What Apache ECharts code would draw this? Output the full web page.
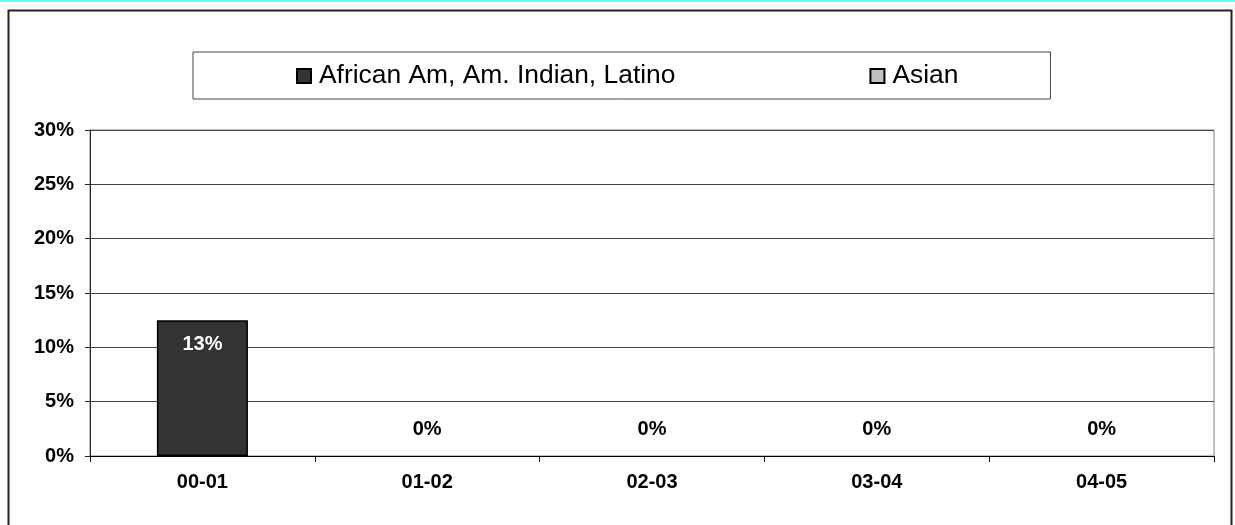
<!DOCTYPE html>
<html>
<head>
<meta charset="utf-8">
<script src="https://cdn.jsdelivr.net/npm/echarts@6/dist/echarts.min.js"></script>
<style>
html,body{margin:0;padding:0;background:#fff;}
#c{width:1235px;height:525px;}
</style>
</head>
<body>
<div id="c"></div>
<script>
const categories = ['00-01', '01-02', '02-03', '03-04', '04-05'];
const seriesNames = ['African Am, Am. Indian, Latino', 'Asian'];
const africanValues = [12.5, 0, 0, 0, 0];
const asianValues = [null, null, null, null, null];
const yTicks = [0, 5, 10, 15, 20, 25, 30];

const FONT = '"Liberation Sans", Arial, sans-serif';
const chart = echarts.init(document.getElementById('c'));

const africanData = africanValues.map(function (v) {
  if (v > 0) {
    return { value: v, label: { position: 'insideTop', distance: 14, color: '#fff' } };
  }
  return { value: v, itemStyle: { borderWidth: 0 }, label: { position: 'top', distance: 17, color: '#000' } };
});

chart.setOption({
  animation: false,
  backgroundColor: '#fff',
  graphic: [
    { type: 'rect', shape: { x: 0, y: 0, width: 1235, height: 2 }, style: { fill: '#66ffff' }, silent: true },
    { type: 'rect', shape: { x: 8.5, y: 10.5, width: 1223, height: 530 }, style: { fill: 'none', stroke: '#222', lineWidth: 2 }, silent: true }
  ],
  legend: {
    data: seriesNames,
    left: 193,
    top: 52,
    padding: [11, 92, 10, 103],
    itemGap: 194,
    itemWidth: 14,
    itemHeight: 14,
    icon: 'rect',
    borderColor: '#444',
    borderWidth: 1,
    backgroundColor: '#fff',
    textStyle: { fontSize: 26.4, fontFamily: FONT, color: '#000', padding: [0, 0, 0, 3] },
    selectedMode: false
  },
  grid: {
    left: 90, right: 21, top: 130, bottom: 69,
    show: true, borderColor: '#808080', borderWidth: 1, backgroundColor: 'transparent'
  },
  xAxis: {
    type: 'category',
    data: categories,
    axisLine: { lineStyle: { color: '#000', width: 1 } },
    axisTick: { show: true, length: 6, alignWithLabel: false, lineStyle: { color: '#000' } },
    axisLabel: { fontSize: 20, fontWeight: 'bold', fontFamily: FONT, color: '#000', margin: 16 }
  },
  yAxis: {
    type: 'value',
    min: 0, max: 30, interval: 5,
    axisLine: { show: true, lineStyle: { color: '#222', width: 1 } },
    axisTick: { show: true, length: 5, lineStyle: { color: '#222' } },
    splitLine: { show: true, lineStyle: { color: '#444', width: 1 } },
    axisLabel: {
      fontSize: 20, fontWeight: 'bold', fontFamily: FONT, color: '#000', margin: 16,
      formatter: function (v) { return yTicks.indexOf(v) >= 0 ? v + '%' : ''; }
    }
  },
  series: [
    {
      name: seriesNames[0],
      type: 'bar',
      data: africanData,
      barWidth: '40.5%',
      barGap: '-100%',
      itemStyle: { color: '#333333', borderColor: '#000', borderWidth: 1.5 },
      label: {
        show: true,
        fontSize: 20, fontWeight: 'bold', fontFamily: FONT,
        formatter: function (p) { return Math.round(p.value) + '%'; }
      }
    },
    {
      name: seriesNames[1],
      type: 'bar',
      data: asianValues,
      barWidth: '40.5%',
      itemStyle: { color: '#c0c0c0', borderColor: '#000', borderWidth: 1 }
    }
  ]
});
</script>
</body>
</html>
